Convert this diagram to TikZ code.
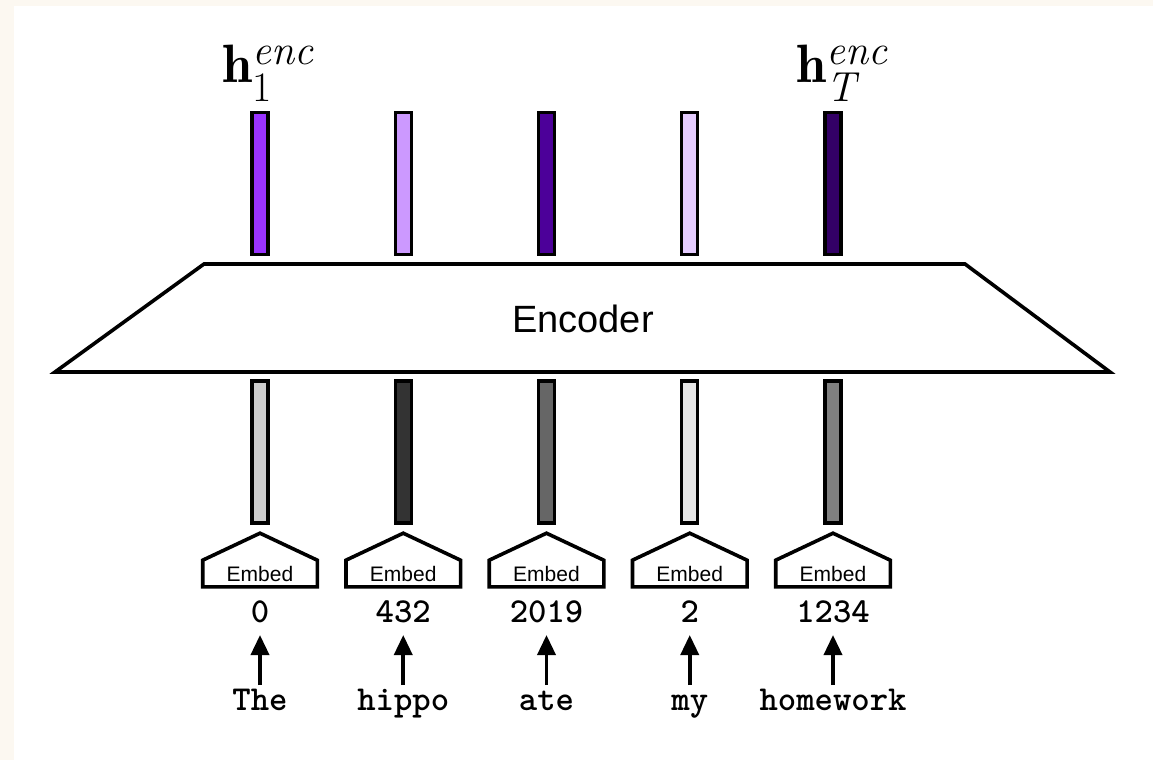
\documentclass[tikz,border=0pt]{standalone}
\usepackage{amsmath}
\usepackage{fontspec}
\newfontfamily\labelsans{Liberation Sans}
\usetikzlibrary{positioning, calc, arrows.meta}

\definecolor{cream}{HTML}{FCF8F1}
% hidden state colours
\definecolor{hidA}{HTML}{9933FF}
\definecolor{hidB}{HTML}{CC99FF}
\definecolor{hidC}{HTML}{4C0099}
\definecolor{hidD}{HTML}{E5CCFF}
\definecolor{hidE}{HTML}{330066}
% embedding colours
\definecolor{embA}{HTML}{CCCCCC}
\definecolor{embB}{HTML}{333333}
\definecolor{embC}{HTML}{666666}
\definecolor{embD}{HTML}{E6E6E6}
\definecolor{embE}{HTML}{808080}

% bigger scripts for the state labels
\newcommand{\bigscr}[1]{\text{\fontsize{21}{21}\selectfont #1}}

\tikzset{
  vecbar/.style={draw, line width=1.6pt, minimum width=8pt, minimum height=71pt, inner sep=0pt},
  embedbox/.style={minimum width=55.5pt, minimum height=11.5pt, inner sep=0pt,
    font=\labelsans\fontsize{10.5}{11}\selectfont},
  tokid/.style={anchor=base, inner sep=0pt, font=\ttfamily\bfseries\fontsize{17.5}{18}\selectfont},
  hlabel/.style={anchor=base west, inner sep=0pt, font=\fontsize{27}{27}\selectfont},
}

\begin{document}
\begin{tikzpicture}[x=0.5pt,y=-0.5pt,line width=1.8pt]
% page background
\fill[cream] (0,0) rectangle (1153,760);
\fill[white] (14,6) rectangle (1153,760);

%Shape: Encoder trapezoid
\draw[fill=white, line join=miter] (55,372) -- (204,264) -- (965,264) -- (1110,372) -- cycle;
% Text Node
\node[font=\labelsans\fontsize{19}{20}\selectfont] (enc) at (583,319) {Encoder};

% columns: word / id / hidden colour / embedding colour
\foreach \i/\word/\num/\hid/\emb in {0/The/0/hidA/embA, 1/hippo/432/hidB/embB, 2/ate/2019/hidC/embC, 3/my/2/hidD/embD, 4/homework/1234/hidE/embE}{
  \pgfmathsetmacro{\cx}{260+143.25*\i}
  \node[vecbar, fill=\hid] (h\i) at (\cx,183.5) {};
  \node[vecbar, fill=\emb] (e\i) at (\cx,452) {};
  \node[embedbox] (m\i) at (\cx,573.5) {Embed};
  \draw[line join=miter] (m\i.south west) -- (m\i.north west) -- ($(m\i.north)+(0,-27)$) -- (m\i.north east) -- (m\i.south east) -- cycle;
  \node[tokid] (n\i) at (\cx,622) {\num};
  \node[tokid] (w\i) at (\cx,710) {\word};
  \draw[-{Triangle[length=10pt,width=9pt]}] ($(w\i.base)+(0,-25)$) -- ($(n\i.base)+(0,13)$);
}

% Text Node
\node[hlabel] (hfirst) at (221,83) {$\mathbf{h}_{\bigscr{1}}^{\bigscr{\itshape enc}}$};
% Text Node
\node[hlabel] (hlast) at (795,83) {$\mathbf{h}_{\bigscr{\itshape T}}^{\bigscr{\itshape enc}}$};
\end{tikzpicture}
\end{document}
